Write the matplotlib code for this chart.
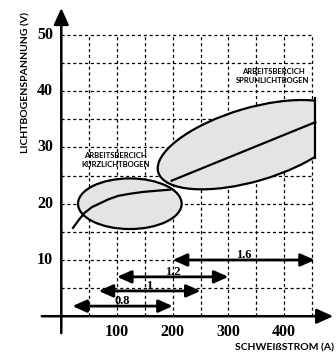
import matplotlib
matplotlib.use("Agg")
import matplotlib.pyplot as plt
from matplotlib.patches import Ellipse, FancyArrowPatch, Rectangle
from matplotlib.transforms import Affine2D

# Achsen / Raster
x_ticks = [100, 200, 300, 400]
y_ticks = [10, 20, 30, 40, 50]
x_grid = [50, 100, 150, 200, 250, 300, 350, 400, 450]
y_grid = [5, 10, 15, 20, 25, 30, 35, 40, 45, 50]

# Drahtdurchmesser: (Strom von, Strom bis, Spannung, Etikett)
wire_labels = ["0.8", "1", "1.2", "1.6"]
wire_from = [20, 67, 100, 200]
wire_to = [200, 250, 300, 455]
wire_volt = [1.8, 4.5, 7.0, 10.0]

# Kennlinie Kurzlichtbogen
short_amp = [21, 32, 42, 55, 70, 85, 102, 125, 147, 170, 195]
short_volt = [15.7, 17.2, 18.4, 19.4, 20.1, 20.8, 21.4, 21.8, 22.1, 22.3, 22.5]

# Kennlinie Sprühlichtbogen
spray_amp = [198, 456]
spray_volt = [24.1, 34.5]

# Arbeitsbereiche (Mitte A, Mitte V, Breite A, Höhe V, Winkel)
short_region = (123, 20.0, 186, 9.0, 0)
spray_region = (342, 30.5, 350, 13.0, 16.3)
spray_cut = 456
spray_cut_volt = (28.2, 38.8)

fill_col = "#e3e4e6"
serif = "Liberation Serif"
sans = "Lato"

fig = plt.figure(figsize=(3.36, 3.56), dpi=100)
ax = fig.add_axes([0, 0, 1, 1])
ax.set_xlim(-110, 493)
ax.set_ylim(-7.07, 56.22)
ax.axis("off")

for x in x_grid:
    ax.plot([x, x], [0, 50], color="black", lw=0.9, ls=(0, (2.5, 2.2)), zorder=1)
for y in y_grid:
    ax.plot([0, 450], [y, y], color="black", lw=0.9, ls=(0, (2.5, 2.2)), zorder=1)

# Bereiche: V*10 damit die Ellipse ungefähr isotrop ist
sq = Affine2D().scale(1, 0.1) + ax.transData
cx, cy, w, h, ang = spray_region
big = Ellipse((cx, cy * 10), w, h * 10, angle=ang, transform=sq,
              fc=fill_col, ec="black", lw=1.6, zorder=2)
ax.add_patch(big)
clip = Rectangle((-200, -50), spray_cut + 200, 200, transform=ax.transData)
big.set_clip_path(clip)
ax.plot([spray_cut, spray_cut], spray_cut_volt, color="black", lw=1.6, zorder=3)
ax.plot(spray_amp, spray_volt, color="black", lw=1.6, zorder=3)

cx, cy, w, h, ang = short_region
small = Ellipse((cx, cy * 10), w, h * 10, angle=ang, transform=sq,
                fc=fill_col, ec="black", lw=1.6, zorder=2)
ax.add_patch(small)
ax.plot(short_amp, short_volt, color="black", lw=1.6, zorder=3,
        solid_joinstyle="round")

ax.text(97, 27.8, "ARBEITSBERCICH\nKURZLICHTBOGEN", ha="center", va="center",
        fontsize=5.5, fontweight="bold", family=sans, linespacing=1.3)
ax.text(380, 42.7, "ARBEITSBERCICH\nSPRUHLICHTBOGEN", ha="center", va="center",
        fontsize=5.5, fontweight="bold", family=sans, linespacing=1.3)

# Drahtpfeile
for lab, a0, a1, v in zip(wire_labels, wire_from, wire_to, wire_volt):
    arr = FancyArrowPatch((a0, v), (a1, v),
                          arrowstyle="<|-|>,head_length=0.85,head_width=0.38",
                          mutation_scale=10, lw=2, color="black",
                          shrinkA=0, shrinkB=0, zorder=4)
    ax.add_patch(arr)
    ax.text((a0 + a1) / 2, v + 0.35, lab, ha="center", va="baseline",
            fontsize=9, fontweight="bold", family=serif, zorder=6)

# Achsen mit Pfeilspitzen
ax.add_patch(FancyArrowPatch((-35, 0), (488, 0), arrowstyle="-|>,head_length=1.0,head_width=0.45",
                             mutation_scale=10, lw=1.8, color="black",
                             shrinkA=0, shrinkB=0, zorder=5))
ax.add_patch(FancyArrowPatch((0, -3), (0, 54.8), arrowstyle="-|>,head_length=1.0,head_width=0.45",
                             mutation_scale=10, lw=1.8, color="black",
                             shrinkA=0, shrinkB=0, zorder=5))

for t in x_ticks:
    ax.text(t, -2.8, str(t), ha="center", va="center", fontsize=11.5,
            fontweight="bold", family=serif)
for t in y_ticks:
    ax.text(-15, t, str(t), ha="right", va="center", fontsize=11.5,
            fontweight="bold", family=serif)

ax.text(490, -5.6, "SCHWEIßSTROM (A)", ha="right", va="center", fontsize=7.5,
        fontweight="bold", family=sans)
ax.text(-63, 41.6, "LICHTBOGENSPANNUNG (V)", ha="center", va="center",
        rotation=90, fontsize=7.5, fontweight="bold", family=sans)

fig.savefig("out.png", dpi=100)
